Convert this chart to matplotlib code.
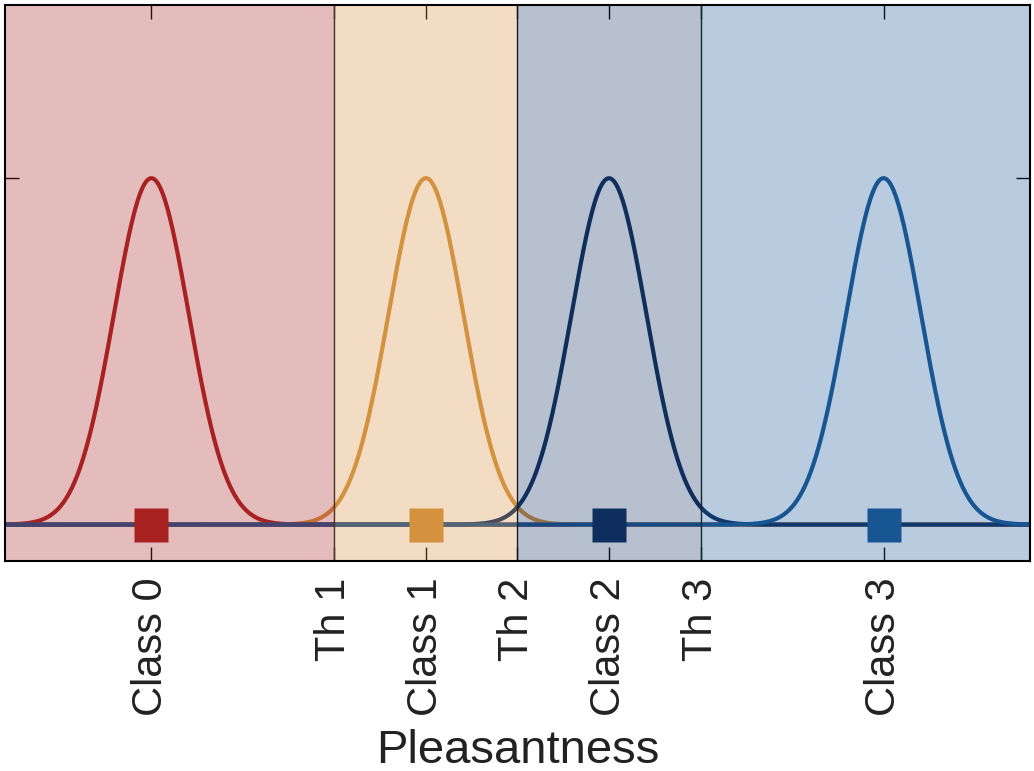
import numpy as np
import matplotlib
matplotlib.use("Agg")
import matplotlib.pyplot as plt

plt.rcParams['font.family'] = ['Liberation Sans', 'DejaVu Sans']

# Data
class_names = ["Class 0", "Class 1", "Class 2", "Class 3"]
class_means = [0.0, 3.0, 5.0, 8.0]
class_sigma = [0.41, 0.41, 0.41, 0.41]
class_peak = [1.0, 1.0, 1.0, 1.0]
threshold_names = ["Th 1", "Th 2", "Th 3"]
thresholds = [2.0, 4.0, 6.0]
x_range = [-1.6, 9.6]
y_range = [-0.105, 1.5]
colors = ["#a92222", "#d4913e", "#0e2f5e", "#175593"]

fig = plt.figure(figsize=(10.34, 7.71), dpi=100)
ax = fig.add_axes([0.0048, 0.2724, 0.9913, 0.7211])

x = np.linspace(x_range[0], x_range[1], 2000)
for m, s, p, c in zip(class_means, class_sigma, class_peak, colors):
    y = p * np.exp(-0.5 * ((x - m) / s) ** 2)
    ax.plot(x, y, color=c, lw=3.0, zorder=2, solid_capstyle='butt')

# shaded class regions (drawn on top, translucent)
edges = [x_range[0]] + thresholds + [x_range[1]]
for i, c in enumerate(colors):
    ax.axvspan(edges[i], edges[i + 1], color=c, alpha=0.3, lw=0, zorder=3)

for t in thresholds:
    ax.axvline(t, color="#111111", lw=1.0, zorder=2.6)

for m, c in zip(class_means, colors):
    ax.plot([m], [0], marker='s', ms=24, color=c, mec='none', zorder=4)

ax.set_xlim(*x_range)
ax.set_ylim(*y_range)

ticks = sorted(class_means + thresholds)
labels_map = dict(zip(class_means, class_names))
labels_map.update(dict(zip(thresholds, threshold_names)))
ax.set_xticks(ticks)
ax.set_xticklabels([labels_map[t] for t in ticks], rotation=90, fontsize=30, color="#222222")
ax.set_yticks([1.0])
ax.set_yticklabels([])
ax.tick_params(direction='in', length=10, width=1.0, top=True, right=True, pad=12)
for sp in ax.spines.values():
    sp.set_linewidth(1.5)
    sp.set_color('black')
    sp.set_zorder(5)
ax.set_xlabel("Pleasantness", fontsize=34, color="#222222", labelpad=9)

fig.savefig("out.png", dpi=100)
